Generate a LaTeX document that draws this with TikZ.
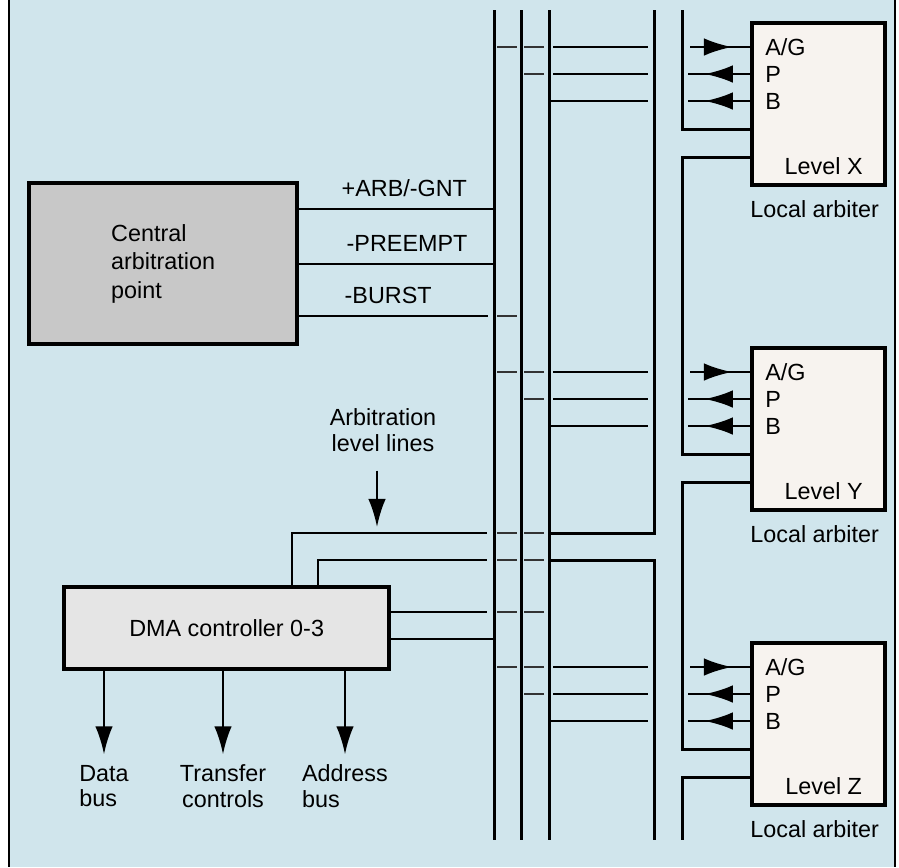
\documentclass[tikz,border=0pt]{standalone}
\usepackage{fontspec}
\setmainfont{Liberation Sans}
\usetikzlibrary{
    calc,
    arrows.meta,
    decorations.markings
}
\definecolor{bgblue}{RGB}{208,229,236}
\definecolor{capgray}{RGB}{200,200,200}
\definecolor{dmagray}{RGB}{229,229,229}
\definecolor{arbfill}{RGB}{247,243,239}
\newcommand{\Tap}[2]{%
  \draw[tap] ($(#1 |- #2)+(3,0)$) -- ++(20,0);
}
\newcommand{\LocalArbiter}[2]{%
  \node[arbiter] (arb#1) at (750,#2) {};
  \coordinate (ag#1) at ($(arb#1.north west)+(0,26)$);
  \coordinate (pp#1) at ($(arb#1.north west)+(0,53)$);
  \coordinate (bb#1) at ($(arb#1.north west)+(0,80)$);
  \coordinate (gi#1) at ($(arb#1.north west)+(0,108)$);
  \coordinate (go#1) at ($(arb#1.north west)+(0,136)$);
  \node[pinlbl] (tag#1) at ($(ag#1)+(15,0)$) {A/G};
  \node[pinlbl] (tpp#1) at ($(pp#1)+(15,0)$) {P};
  \node[pinlbl] (tbb#1) at ($(bb#1)+(15,0)$) {B};
  \node[anchor=base] (lv#1) at ($(arb#1.south)+(5,-13)$) {Level #1};
  \node[anchor=base] (la#1) at ($(arb#1.south)+(-4,30)$) {Local arbiter};
  \draw[tipin] ($(ag#1)+(-60,0)$) -- (ag#1);
  \draw[tipout] (pp#1) -- ++(-62,0);
  \draw[tipout] (bb#1) -- ++(-62,0);
  \Tap{b1t}{ag#1}
  \Tap{b2t}{ag#1}
  \Tap{b2t}{pp#1}
  \draw[wire] ($(ag#1 -| b3t)+(4,0)$) -- ($(ag#1 -| b4t)+(-6,0)$);
  \draw[wire] ($(pp#1 -| b3t)+(4,0)$) -- ($(pp#1 -| b4t)+(-6,0)$);
  \draw[wire] (bb#1 -| b3t) -- ($(bb#1 -| b4t)+(-6,0)$);
}

\begin{document}
\begin{tikzpicture}[x=0.02cm,y=-0.02cm,
    font=\fontsize{13.3}{14.5}\selectfont,
    bus/.style={line width=1.7pt},
    wire/.style={line width=1.4pt},
    tap/.style={line width=1.6pt, black!80},
    box/.style={draw, line width=2.5pt, inner sep=0pt},
    arbiter/.style={box, fill=arbfill, anchor=north west,
        minimum width=2.66cm, minimum height=3.24cm},
    pinlbl/.style={anchor=west, inner sep=0pt},
    sig/.style={anchor=base west, inner sep=0pt},
    outarrow/.style={wire, -{Latex[length=16pt,width=10pt]}},
    tipin/.style={wire, postaction={decorate}, decoration={markings,
        mark=at position 0.7 with {\arrow{Latex[length=16pt,width=10pt]}}}},
    tipout/.style={wire, postaction={decorate}, decoration={markings,
        mark=at position 0.73 with {\arrow{Latex[length=16pt,width=10pt]}}}}
]
\useasboundingbox (0,0) rectangle (899,867);
\fill[bgblue] (9,0) rectangle (895,867);
\draw[line width=1.2pt] (9,0) -- (9,867);
\draw[line width=1.2pt] (895,0) -- (895,867);

% bus
\coordinate (b1t) at (494,10);
\coordinate (b1b) at (494,840);
\coordinate (b2t) at (521,10);
\coordinate (b2b) at (521,840);
\coordinate (b3t) at (549,10);
\coordinate (b3b) at (549,840);
\coordinate (b4t) at (654,10);
\coordinate (b4b) at (654,840);
\coordinate (c5t) at (682,10);
\coordinate (c5b) at (682,840);
\draw[bus] (b1t) -- (b1b);
\draw[bus] (b2t) -- (b2b);
\draw[bus] (b3t) -- (b3b);

% central arbitration point
\node[box, fill=capgray, anchor=north west, minimum width=5.36cm,
    minimum height=3.22cm, align=left,
    font=\fontsize{13.3}{16.2}\selectfont] (cap) at (27,181)
    {Central\\arbitration\\point};
\coordinate (sArb) at ($(cap.north east)+(0,28)$);
\coordinate (sPre) at ($(cap.north east)+(0,83)$);
\coordinate (sBur) at ($(cap.north east)+(0,135)$);
\draw[wire] (sArb) -- (sArb -| b1t);
\draw[wire] (sPre) -- (sPre -| b1t);
\draw[wire] (sBur) -- ($(sBur -| b1t)+(-6,0)$);
\Tap{b1t}{sBur}
\node[sig] (tArb) at ($(sArb)+(42,-13)$) {+ARB/-GNT};
\node[sig] (tPre) at ($(sPre)+(47,-13)$) {-PREEMPT};
\node[sig] (tBur) at ($(sBur)+(45,-13)$) {-BURST};

% local arbiters
\LocalArbiter{X}{21}
\LocalArbiter{Y}{346}
\LocalArbiter{Z}{641}

% daisy chain
\draw[bus] (c5t) -- (c5t |- giX) -- (giX);
\draw[bus] (goX) -- (goX -| c5t) -- (c5t |- giY) -- (giY);
\draw[bus] (goY) -- (goY -| c5t) -- (c5t |- giZ) -- (giZ);
\draw[bus] (goZ) -- (goZ -| c5t) -- (c5b);

% DMA controller
\node[box, fill=dmagray, anchor=north west, minimum width=6.5cm,
    minimum height=1.64cm] (dma) at (62,585) {DMA controller 0-3};
\coordinate (dUp1) at ($(dma.north west)+(230,0)$);
\coordinate (dUp2) at ($(dma.north west)+(256,0)$);
\coordinate (l1) at (487,533);
\coordinate (l2) at (487,560);
\coordinate (l3) at (487,612);
\coordinate (l4) at (494,639);
\draw[wire] (dUp1) |- (l1);
\draw[wire] (dUp2) |- (l2);
\draw[wire] (dma.east |- l3) -- (l3);
\draw[wire] (dma.east |- l4) -- (l4);
\Tap{b1t}{l1}
\Tap{b2t}{l1}
\Tap{b1t}{l2}
\Tap{b2t}{l2}
\Tap{b1t}{l3}
\Tap{b2t}{l3}
\draw[bus] (b4t) -- (b4t |- l1) -- (b3t |- l1);
\draw[bus] (b3t |- l2) -- (b4t |- l2) -- (b4b);

% arbitration level lines
\coordinate (lvlTip) at (377,527);
\node[align=center] (tLvl) at (383,430) {Arbitration\\level lines};
\draw[outarrow, shorten <=0.26cm] (tLvl.south -| lvlTip) -- (lvlTip);

% outputs
\coordinate (dData) at ($(dma.south west)+(42,0)$);
\coordinate (dXfer) at ($(dma.south west)+(161,0)$);
\coordinate (dAddr) at ($(dma.south west)+(283,0)$);
\draw[outarrow] (dData) -- ++(0,83) node[below=2pt, align=left] (tData) {Data\\bus};
\draw[outarrow] (dXfer) -- ++(0,83) node[below=2pt, align=center] (tXfer) {Transfer\\controls};
\draw[outarrow] (dAddr) -- ++(0,83) node[below=2pt, align=left] (tAddr) {Address\\bus};
\end{tikzpicture}
\end{document}
